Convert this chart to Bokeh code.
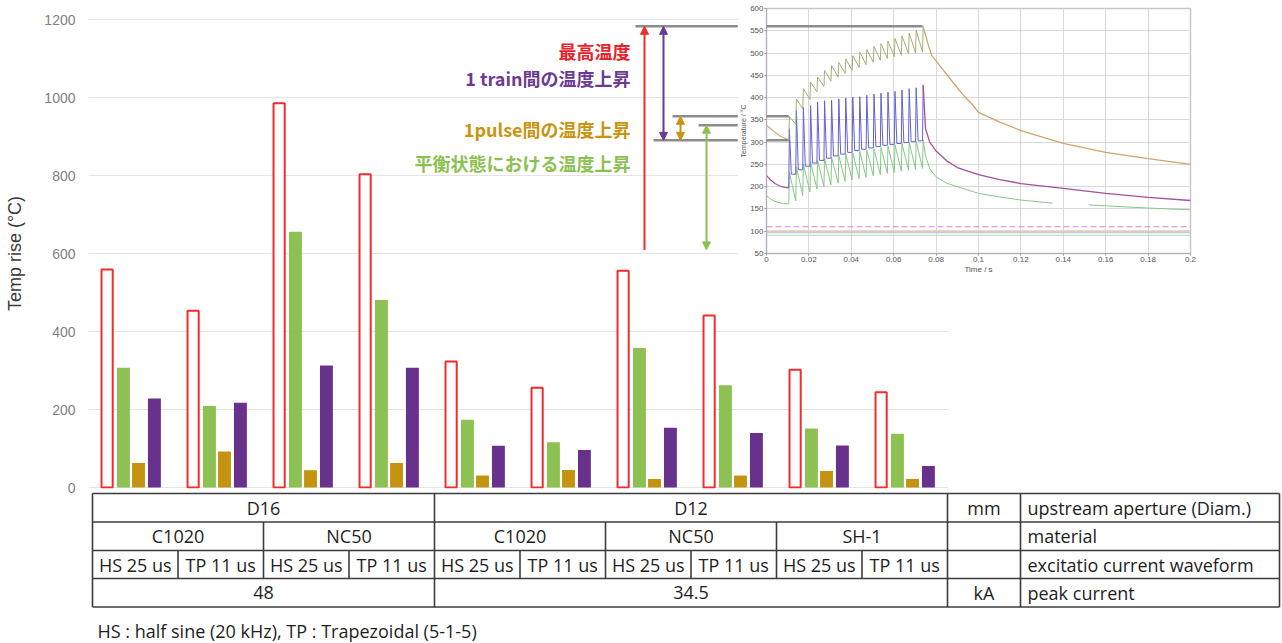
import math
from bokeh.plotting import figure
from bokeh.layouts import column, row
from bokeh.models import Range1d, FixedTicker, Arrow, NormalHead, CustomJSTickFormatter
from bokeh.core.properties import value
from bokeh.embed import file_html
from bokeh.resources import INLINE

# ---------------- data: main bar chart ----------------
apertures = ["D16", "D12"]
aperture_groups = [4, 6]
materials = ["C1020", "NC50", "C1020", "NC50", "SH-1"]
waveforms = ["HS 25 us", "TP 11 us"] * 5
peak_currents = ["48", "34.5"]
row_units = ["mm", "", "", "kA"]
row_names = ["upstream aperture (Diam.)", "material", "excitatio current waveform", "peak current"]
footnote = "HS : half sine (20 kHz), TP : Trapezoidal (5-1-5)"

max_temp = [559, 453, 985, 803, 323, 256, 556, 441, 302, 244]
equilibrium_rise = [307, 209, 656, 481, 174, 116, 358, 262, 151, 138]
pulse_rise = [63, 92, 44, 63, 31, 45, 22, 31, 42, 22]
train_rise = [228, 217, 313, 307, 107, 96, 153, 140, 108, 55]
y_ticks = [0, 200, 400, 600, 800, 1000, 1200]
y_label = "Temp rise (°C)"

legend_texts = ["最高温度", "1 train間の温度上昇", "1pulse間の温度上昇", "平衡状態における温度上昇"]

# ---------------- data: inset (temperature vs time) ----------------
pulse_times = [0.0105, 0.0138, 0.0171, 0.0205, 0.0238, 0.0271, 0.0304, 0.0338, 0.0371, 0.0404,
               0.0437, 0.0470, 0.0504, 0.0537, 0.0570, 0.0603, 0.0636, 0.0670, 0.0703, 0.0736]
pre_t = [0, 0.002, 0.004, 0.006, 0.008, 0.0105]
olive_pre = [338, 330, 322, 315, 310, 305]
olive_peaks = [358, 397, 420, 435, 446, 461, 472, 479, 487, 494, 502, 508, 515, 521, 527, 533, 539, 545, 551, 560]
olive_troughs = [340, 375, 396, 413, 425, 437, 446, 454, 461, 468, 474, 479, 484, 488, 492, 495, 498, 500, 502]
olive_decay_t = [0.0765, 0.078, 0.082, 0.087, 0.092, 0.097, 0.1, 0.11, 0.12, 0.14, 0.16, 0.18, 0.2]
olive_decay = [515, 494, 470, 440, 410, 385, 367, 345, 326, 297, 277, 263, 250]

purple_pre = [225, 215, 207, 202, 199, 197]
blue_peaks = [330, 371, 378, 382, 390, 393, 394, 397, 399, 401, 402, 405, 408, 410, 412, 414, 417, 420, 422, 428]
blue_troughs = [228, 238, 246, 253, 259, 264, 269, 273, 277, 281, 284, 287, 290, 293, 295, 297, 299, 301, 303]
purple_decay_t = [0.075, 0.077, 0.08, 0.085, 0.09, 0.1, 0.11, 0.12, 0.14, 0.16, 0.18, 0.2]
purple_decay = [330, 300, 280, 258, 243, 227, 216, 207, 196, 185, 176, 169]

green_pre = [180, 172, 167, 164, 162, 161]
green_peaks = [232, 244, 250, 255, 259, 263, 266, 270, 273, 276, 279, 282, 285, 288, 291, 294, 297, 300, 302, 305]
green_troughs = [168, 180, 188, 195, 200, 204, 208, 212, 215, 218, 221, 224, 227, 230, 232, 235, 237, 239, 241]
green_decay_t = [0.075, 0.077, 0.08, 0.085, 0.09, 0.1, 0.11, 0.12, 0.135]
green_decay = [270, 240, 222, 208, 200, 185, 177, 170, 163]
green_tail_t = [0.152, 0.16, 0.18, 0.2]
green_tail = [159, 157, 152, 148]

flat_levels = [110, 101, 97, 91]
flat_colors = ["#c58fd0", "#dccab0", "#d6c4cc", "#9fd8d8"]

inset_y_ticks = [50, 100, 150, 200, 250, 300, 350, 400, 450, 500, 550, 600]
inset_x_ticks = [0, 0.02, 0.04, 0.06, 0.08, 0.1, 0.12, 0.14, 0.16, 0.18, 0.2]

# schematic marker temperatures (inset scale)
t_max, t_pulse_top, t_start, t_pre, t_base = 560, 358, 338, 304, 58

legend_mark_temps = [582, 555, 528, 501, 476, 447, 420, 393, 364]
legend_mark_colors = ["#f0c890", "#f4a8a8", "#90d090", "#c080d8", "#e0c080",
                      "#b0b0b0", "#a0e0e0", "#b8b8b8", "#6060d8"]

# ---------------- colours ----------------
RED, GREEN, GOLD, PURPLE = "#f02c2c", "#8dc153", "#c49410", "#68318c"
TXT_RED, TXT_PURPLE, TXT_GOLD, TXT_GREEN = "#e8212b", "#6b3a94", "#c99410", "#8cc152"

# ---------------- layout constants ----------------
W = 1282
GX0, GSTEP = 92.0, 86.0           # main chart: group 0 left edge / group pitch in px
FRAME_L, FRAME_R, FRAME_T, FRAME_B = 88, 948, 18, 488
MAIN_H = 500
TAB_TOP = 490

# inset placement (page px)
IN_L, IN_W = 737, 545
IN_FL, IN_FR, IN_FT, IN_FB = 766, 1190, 8, 253
IN_TOP_BORDER, IN_BOTTOM_BORDER = 18, 40


def inset_y_px(v):
    return IN_FT + (600 - v) * (IN_FB - IN_FT) / 550.0


def inset_t_at(px):
    return (px - IN_FL) * 0.2 / (IN_FR - IN_FL)


# ---------------- main figure ----------------
main = figure(width=W, frame_height=FRAME_B - FRAME_T,
              x_range=Range1d((FRAME_L - GX0) / GSTEP, (FRAME_R - GX0) / GSTEP),
              y_range=Range1d(-(FRAME_B - 487) / 0.39, 1200 + (19 - FRAME_T) / 0.39),
              min_border_left=FRAME_L, min_border_right=W - FRAME_R,
              min_border_top=FRAME_T, min_border_bottom=MAIN_H - FRAME_B,
              title_location=None, x_axis_location=None, toolbar_location=None, output_backend="svg",
              outline_line_color=None, background_fill_color="white", border_fill_color="white")
main.extra_x_ranges = {"px": Range1d(FRAME_L, FRAME_R)}
main.extra_y_ranges = {"px": Range1d(FRAME_B, FRAME_T)}
main.xgrid.visible = False
main.ygrid.ticker = FixedTicker(ticks=y_ticks)
main.ygrid.grid_line_color = "#e4e4e4"
main.ygrid.grid_line_width = 1
ax = main.yaxis[0]
ax.ticker = FixedTicker(ticks=y_ticks)
ax.axis_line_color = None
ax.major_tick_line_color = None
ax.minor_tick_line_color = None
ax.major_tick_out = 0
ax.major_label_standoff = 13
ax.major_label_text_font = "Liberation Sans"
ax.major_label_text_font_size = "14px"
ax.major_label_text_color = "#7f7f7f"
ax.axis_label = y_label
ax.axis_label_text_font = "Liberation Sans"
ax.axis_label_text_font_size = "18px"
ax.axis_label_text_font_style = "normal"
ax.axis_label_text_color = "#3a3a3a"
ax.axis_label_standoff = 16

groups = list(range(len(max_temp)))
main.vbar(x=[g + 0.17 for g in groups], top=max_temp, bottom=0, width=0.13,
          fill_color="white", line_color=RED, line_width=2)
main.vbar(x=[g + 0.36 for g in groups], top=equilibrium_rise, bottom=0, width=0.15,
          fill_color=GREEN, line_color=None)
main.vbar(x=[g + 0.535 for g in groups], top=pulse_rise, bottom=0, width=0.15,
          fill_color=GOLD, line_color=None)
main.vbar(x=[g + 0.72 for g in groups], top=train_rise, bottom=0, width=0.15,
          fill_color=PURPLE, line_color=None)

# schematic legend texts
main.text(x=[630] * 4, y=[50, 77, 128, 162], text=legend_texts,
          text_color=[TXT_RED, TXT_PURPLE, TXT_GOLD, TXT_GREEN],
          text_align="right", text_baseline="middle",
          text_font=value("Noto Sans CJK JP"), text_font_size="18px", text_font_style="bold",
          x_range_name="px", y_range_name="px")

GREY = "#8c8c8c"
for v, x0 in [(t_max, 635), (t_pulse_top, 672), (t_start, 698), (t_pre, 653)]:
    yy = inset_y_px(v)
    main.add_layout(Arrow(x_start=x0, y_start=yy, x_end=IN_L + 20, y_end=yy, start=None, end=None,
                          line_color=GREY, line_width=2.5, x_range_name="px", y_range_name="px"))


def head(c):
    return NormalHead(size=8, fill_color=c, line_color=c, line_width=1)


main.add_layout(Arrow(x_start=644, y_start=inset_y_px(t_base), x_end=644, y_end=inset_y_px(t_max),
                      start=None, end=head(RED), line_color=RED, line_width=2,
                      x_range_name="px", y_range_name="px"))
main.add_layout(Arrow(x_start=663, y_start=inset_y_px(t_pre), x_end=663, y_end=inset_y_px(t_max),
                      start=head(TXT_PURPLE), end=head(TXT_PURPLE), line_color=TXT_PURPLE, line_width=2,
                      x_range_name="px", y_range_name="px"))
main.add_layout(Arrow(x_start=680, y_start=inset_y_px(t_pre), x_end=680, y_end=inset_y_px(t_pulse_top),
                      start=head(TXT_GOLD), end=head(TXT_GOLD), line_color=TXT_GOLD, line_width=2,
                      x_range_name="px", y_range_name="px"))
main.add_layout(Arrow(x_start=706, y_start=inset_y_px(t_base), x_end=706, y_end=inset_y_px(t_start),
                      start=head(TXT_GREEN), end=head(TXT_GREEN), line_color=TXT_GREEN, line_width=2,
                      x_range_name="px", y_range_name="px"))

# ---------------- inset figure ----------------
IN_H = IN_TOP_BORDER + (IN_FB - IN_FT) + IN_BOTTOM_BORDER
inset = figure(width=IN_W, height=IN_H, x_range=Range1d(0, 0.2), y_range=Range1d(50, 600),
               min_border_left=IN_FL - IN_L, min_border_right=IN_L + IN_W - IN_FR,
               min_border_top=IN_TOP_BORDER, min_border_bottom=IN_BOTTOM_BORDER,
               title_location=None, toolbar_location=None, output_backend="svg",
               background_fill_color="white", border_fill_color="white",
               outline_line_color="#c8c8c8", outline_line_width=1.5,
               margin=(IN_FT - IN_TOP_BORDER, 0, 0, -IN_W))
inset.xgrid.ticker = FixedTicker(ticks=inset_x_ticks)
inset.ygrid.ticker = FixedTicker(ticks=inset_y_ticks)
inset.grid.grid_line_color = "#d9d9d9"
for a in [inset.xaxis[0], inset.yaxis[0]]:
    a.axis_line_color = "#b8a8b8"
    a.major_tick_line_color = "#999999"
    a.major_tick_out = 2
    a.major_tick_in = 0
    a.minor_tick_line_color = None
    a.major_label_standoff = 1
    a.major_label_text_font = "Liberation Sans"
    a.major_label_text_font_size = "8px"
    a.major_label_text_color = "#555555"
    a.axis_label_text_font = "Liberation Sans"
    a.axis_label_text_font_style = "normal"
    a.axis_label_text_color = "#555555"
    a.axis_label_standoff = 0
inset.xaxis.ticker = FixedTicker(ticks=inset_x_ticks)
inset.yaxis.ticker = FixedTicker(ticks=inset_y_ticks)
inset.xaxis.formatter = CustomJSTickFormatter(code="return String(Number(tick.toFixed(2)))")
inset.xaxis.axis_label = "Time / s"
inset.xaxis.axis_label_text_font_size = "8px"
inset.yaxis.axis_label = "Temperature / °C"
inset.yaxis.axis_label_text_font_size = "7px"

for lv, lc in zip(flat_levels, flat_colors):
    inset.line(x=[0, 0.2], y=[lv, lv], line_color=lc, line_width=1.2,
               line_dash="6 3" if lv == flat_levels[0] else "solid")


def saw(peaks, troughs, hold=None):
    xs, ys = [], []
    for k, t in enumerate(pulse_times):
        xs.append(t + 0.0003)
        ys.append(peaks[k])
        if k < len(troughs):
            if hold is not None:
                xs.append(t + hold)
                ys.append(troughs[k])
            xs.append(pulse_times[k + 1])
            ys.append(troughs[k])
    return xs, ys


# green
gx, gy = saw(green_peaks, green_troughs)
inset.line(pre_t, green_pre, line_color="#86c886", line_width=1)
inset.line([pre_t[-1]] + gx + green_decay_t, [green_pre[-1]] + gy + green_decay,
           line_color="#86c886", line_width=1)
inset.line(green_tail_t, green_tail, line_color="#86c886", line_width=1)

# purple / blue
bx, by = saw(blue_peaks, blue_troughs, hold=0.0012)
inset.line(pre_t, purple_pre, line_color="#a4509c", line_width=1.2)
inset.line([pre_t[-1]] + bx, [purple_pre[-1]] + by, line_color="#6262d2", line_width=1)
inset.line([bx[-1]] + purple_decay_t, [by[-1]] + purple_decay, line_color="#a4509c", line_width=1.3)

# olive / tan
ox, oy = saw(olive_peaks, olive_troughs)
inset.line(pre_t, olive_pre, line_color="#d2aa72", line_width=1.2)
inset.line([pre_t[-1]] + ox, [olive_pre[-1]] + oy, line_color="#a3b07a", line_width=1)
inset.line([ox[-1]] + olive_decay_t, [oy[-1]] + olive_decay, line_color="#cfa56c", line_width=1.3)

# connecting reference lines (extend left out of the inset frame)
t_left = inset_t_at(IN_L)
for v, t_end in [(t_max, pulse_times[-1]), (t_pulse_top, pulse_times[0]),
                 (t_start, inset_t_at(760)), (t_pre, pulse_times[0])]:
    inset.add_layout(Arrow(x_start=t_left, y_start=v, x_end=t_end, y_end=v, start=None, end=None,
                           line_color=GREY, line_width=2.5))

# tiny legend marks to the right of the inset
for v, c in zip(legend_mark_temps, legend_mark_colors):
    inset.add_layout(Arrow(x_start=inset_t_at(1195), y_start=v, x_end=inset_t_at(1200), y_end=v,
                           start=None, end=None, line_color=c, line_width=1.2))

# ---------------- table figure ----------------
TAB_H = 643 - TAB_TOP
table = figure(width=W, height=TAB_H, x_range=Range1d(0, W), y_range=Range1d(TAB_H, 0),
               min_border_left=0, min_border_right=0, min_border_top=0, min_border_bottom=0,
               title_location=None, x_axis_location=None, y_axis_location=None, toolbar_location=None,
               output_backend="svg", outline_line_color=None,
               background_fill_alpha=0, border_fill_alpha=0,
               margin=(TAB_TOP - MAIN_H, 0, 0, 0))
table.grid.visible = False

TGX0, TGSTEP = 92.0, 85.5


def tcol(i):
    return TGX0 + i * TGSTEP


X_UNIT, X_NAME, X_END = 947, 1020, 1279
rows_y = [3, 31.5, 60, 88, 116.5]
LC = "#3c3c3c"

table.segment(x0=[tcol(0)] * 5, y0=rows_y, x1=[X_END] * 5, y1=rows_y, line_color=LC, line_width=1.6)
vx0, vy0, vy1 = [], [], []
for x in [tcol(0), tcol(aperture_groups[0]), X_UNIT, X_NAME, X_END]:
    vx0.append(x); vy0.append(rows_y[0]); vy1.append(rows_y[-1])
for i in [2, 6, 8]:
    vx0.append(tcol(i)); vy0.append(rows_y[1]); vy1.append(rows_y[3])
for i in [1, 3, 5, 7, 9]:
    vx0.append(tcol(i)); vy0.append(rows_y[2]); vy1.append(rows_y[3])
table.segment(x0=vx0, y0=vy0, x1=vx0, y1=vy1, line_color=LC, line_width=1.6)

cx, cy, ct = [], [], []
mid = [(rows_y[i] + rows_y[i + 1]) / 2 for i in range(4)]
g = 0
for name, n in zip(apertures, aperture_groups):
    cx.append((tcol(g) + tcol(g + n)) / 2); cy.append(mid[0]); ct.append(name)
    g += n
for i, m in enumerate(materials):
    cx.append((tcol(2 * i) + tcol(2 * i + 2)) / 2); cy.append(mid[1]); ct.append(m)
for i, wv in enumerate(waveforms):
    cx.append((tcol(i) + tcol(i + 1)) / 2); cy.append(mid[2]); ct.append(wv)
g = 0
for pc, n in zip(peak_currents, aperture_groups):
    cx.append((tcol(g) + tcol(g + n)) / 2); cy.append(mid[3]); ct.append(pc)
    g += n
for r, u in enumerate(row_units):
    if u:
        cx.append((X_UNIT + X_NAME) / 2); cy.append(mid[r]); ct.append(u)

TFONT = value("Open Sans")
table.text(x=cx, y=cy, text=ct, text_align="center", text_baseline="middle",
           text_font=TFONT, text_font_size="18px", text_color="#1e1e1e")
table.text(x=[X_NAME + 7] * 4, y=mid, text=row_names, text_align="left", text_baseline="middle",
           text_font=TFONT, text_font_size="18px", text_color="#1e1e1e")
table.text(x=[97], y=[140], text=[footnote], text_align="left", text_baseline="middle",
           text_font=TFONT, text_font_size="18px", text_color="#1e1e1e")

layout = column(row(main, inset, spacing=0), table, spacing=0)
open("out.html", "w").write(file_html(layout, INLINE))
